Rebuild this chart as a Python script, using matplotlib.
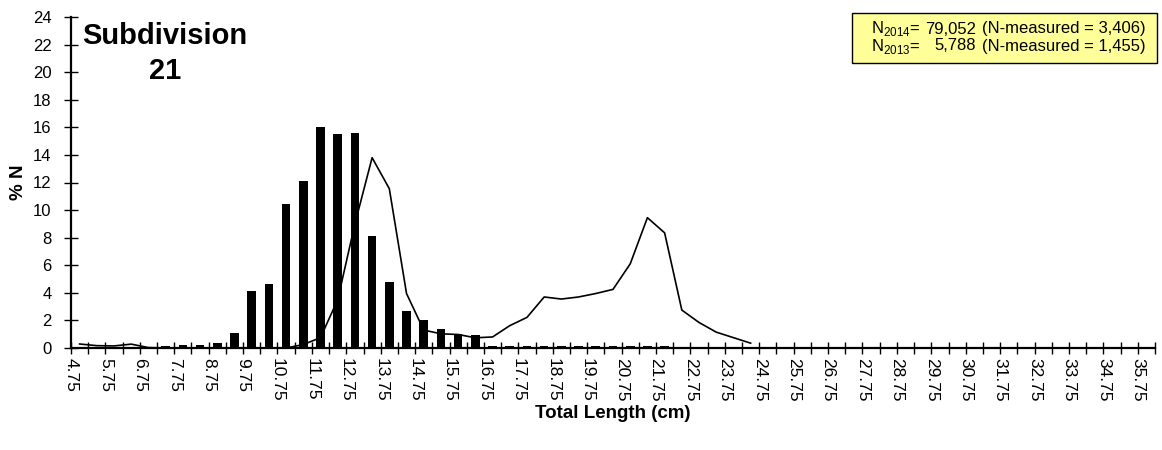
import numpy as np
import matplotlib
matplotlib.use("Agg")
import matplotlib.pyplot as plt
from matplotlib.patches import Rectangle
from matplotlib.transforms import ScaledTranslation

plt.rcParams['font.family'] = ['Liberation Sans', 'DejaVu Sans']
plt.rcParams['mathtext.fontset'] = 'custom'
plt.rcParams['mathtext.rm'] = 'Liberation Sans'

# 0.5 cm length classes (lower class edge labels)
length_classes = np.arange(4.75, 36.25, 0.5)          # 63 classes, 4.75 ... 35.75
tick_labels = [f"{v:.2f}" if i % 2 == 0 else "" for i, v in enumerate(length_classes)]

# % N 2014 (bars)
pct_2014 = [0, 0, 0, 0, 0, 0.17, 0.2, 0.2, 0.35, 1.1,
            4.15, 4.65, 10.45, 12.1, 16.05, 15.5, 15.6, 8.1, 4.8, 2.7,
            2.0, 1.37, 1.03, 0.95, 0.15, 0.15, 0.15, 0.12, 0.15, 0.12,
            0.15, 0.15, 0.12, 0.15, 0.15]

# % N 2013 (line)
pct_2013 = [0.29, 0.17, 0.15, 0.28, 0.03, 0, 0, 0, 0, 0,
            0, 0, 0, 0.25, 0.75, 3.5, 9.0, 13.8, 11.55, 3.95,
            1.3, 1.03, 0.98, 0.74, 0.8, 1.62, 2.22, 3.7, 3.55, 3.7,
            3.95, 4.25, 6.1, 9.45, 8.35, 2.75, 1.85, 1.15, 0.75, 0.35]

legend_lines = [("2014", "79,052", "(N-measured = 3,406)"),
                ("2013", "5,788", "(N-measured = 1,455)")]

W, H = 1162, 450
fig = plt.figure(figsize=(W / 100, H / 100), dpi=100)
ax = fig.add_axes([71 / W, 1 - 348 / H, (1155 - 71) / W, (348 - 17) / H])

n = len(length_classes)
xb = np.arange(len(pct_2014)) + 0.5
xl = np.arange(len(pct_2013)) + 0.5
ax.bar(xb, pct_2014, width=0.5, color='black', zorder=2)
ax.plot(xl, pct_2013, color='black', lw=1.2, zorder=3)

ax.set_xlim(0, n)
ax.set_ylim(0, 24)
ax.set_yticks(np.arange(0, 25, 2))
ax.set_xticks(np.arange(n + 1))
ax.set_xticklabels(tick_labels + [""], rotation=270, fontsize=12.5)
for lab in ax.get_xticklabels():
    lab.set_transform(lab.get_transform() + ScaledTranslation(0.045, 0, fig.dpi_scale_trans))
ax.tick_params(axis='x', direction='inout', length=9, width=1, pad=3, colors='black')
ax.tick_params(axis='y', direction='inout', length=10, width=1, pad=9, labelsize=12)

for s in ['top', 'right']:
    ax.spines[s].set_visible(False)
for s in ['left', 'bottom']:
    ax.spines[s].set_linewidth(1.6)

ax.set_xlabel("Total Length (cm)", fontsize=13.5, fontweight='bold', labelpad=2)
ax.set_ylabel("% N", fontsize=13.5, fontweight='bold', labelpad=4)

fig.text(165 / W, 1 - 36 / H, "Subdivision", fontsize=21, fontweight='bold',
         ha='center', va='center')
fig.text(165 / W, 1 - 71 / H, "21", fontsize=21, fontweight='bold',
         ha='center', va='center')

# legend box
fig.patches.append(Rectangle((852 / W, 1 - 63 / H), (1157 - 852) / W, 50 / H,
                             transform=fig.transFigure, facecolor='#FFFF99',
                             edgecolor='black', lw=1.0, zorder=5))
for k, (yr, nval, meas) in enumerate(legend_lines):
    yy = 1 - (29 + 17 * k) / H
    fig.text(871 / W, yy, r"N$_{\mathregular{%s}}$=" % yr, fontsize=12,
             ha='left', va='center', zorder=6)
    fig.text(976 / W, yy, nval, fontsize=12, ha='right', va='center', zorder=6)
    fig.text(982 / W, yy, meas, fontsize=12, ha='left', va='center', zorder=6)

fig.savefig("out.png", dpi=100)
